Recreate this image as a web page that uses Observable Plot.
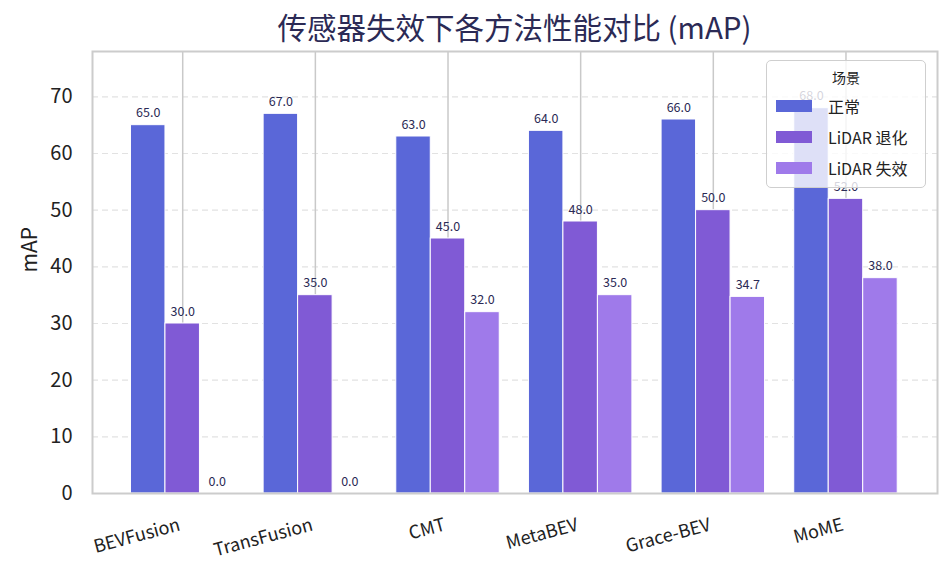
<!DOCTYPE html>
<html>
<head>
<meta charset="utf-8">
<script src="https://cdn.jsdelivr.net/npm/d3@7"></script>
<script src="https://cdn.jsdelivr.net/npm/@observablehq/plot@0.6"></script>
<style>
  html, body { margin: 0; padding: 0; background: #fff; }
  body { width: 951px; height: 576px; position: relative; overflow: hidden; font-family: "Noto Sans CJK SC", "Noto Sans", sans-serif; }
  #title { height: 46px; line-height: 52px; padding-left: 78px; text-align: center; font-size: 29.5px; color: #2b2a55; white-space: nowrap; }
  #legend { position: absolute; left: 766px; top: 60px; width: 158px; height: 126px; border: 1px solid #cfcfcf; border-radius: 5px; background: rgba(255,255,255,0.8); box-sizing: content-box; }
  #legend .lt { position: absolute; left: 0; width: 100%; top: 6px; text-align: center; font-size: 14px; color: #222; }
  #legend .it { position: absolute; left: 9px; height: 20px; font-size: 16px; color: #222; display: flex; align-items: center; }
  #legend .sw { width: 36px; height: 12px; margin-right: 16px; }
  svg { display: block; }
</style>
</head>
<body>
<div id="title">传感器失效下各方法性能对比 (mAP)</div>
<div id="chart"></div>
<div id="legend"></div>
<script>
const methods = ["BEVFusion", "TransFusion", "CMT", "MetaBEV", "Grace-BEV", "MoME"];
const scenarios = ["正常", "LiDAR 退化", "LiDAR 失效"];
const normal = [65, 67, 63, 64, 66, 68];
const degraded = [30, 35, 45, 48, 50, 52];
const failed = [0, 0, 32, 35, 34.7, 38];
const colors = ["#5a67d8", "#805ad5", "#9f7aea"];
const yTicks = [0, 10, 20, 30, 40, 50, 60, 70];

const series = [normal, degraded, failed];
const rows = [];
methods.forEach((m, i) => {
  scenarios.forEach((s, k) => {
    rows.push({method: m, i, scenario: s, k, value: series[k][i]});
  });
});
const methodRows = methods.map((m, i) => ({method: m, i}));
const w = 0.26;
const cx = d => d.i + (d.k - 1) * w;

const chart = Plot.plot({
  width: 951,
  height: 530,
  marginTop: 5,
  marginBottom: 83,
  marginLeft: 92,
  marginRight: 14,
  style: {fontFamily: "'Noto Sans CJK SC', 'Noto Sans', sans-serif", background: "transparent"},
  x: {type: "linear", domain: [-0.68, 5.69], axis: null},
  y: {domain: [0, 78]},
  color: {domain: scenarios, range: colors},
  marks: [
    Plot.gridY({ticks: yTicks, stroke: "#e2e2e2", strokeOpacity: 1, strokeWidth: 1.2, strokeDasharray: "6,4"}),
    Plot.gridX({ticks: d3.range(methods.length), stroke: "#c9c9c9", strokeOpacity: 1, strokeWidth: 1.5}),
    Plot.rectY(rows, {
      x1: d => cx(d) - w / 2,
      x2: d => cx(d) + w / 2,
      y1: 0,
      y2: "value",
      fill: "scenario",
      stroke: "white",
      strokeWidth: 1
    }),
    Plot.text(rows, {
      x: cx,
      y: "value",
      text: d => d.value.toFixed(1),
      dy: -12,
      fontSize: 12.5,
      fill: "#2b2a55"
    }),
    Plot.axisY({
      ticks: yTicks,
      tickSize: 0,
      tickPadding: 20,
      fontSize: 20,
      color: "#222",
      label: null
    }),
    Plot.text(["mAP"], {
      frameAnchor: "left",
      rotate: -90,
      dx: -62,
      fontSize: 21,
      fill: "#222"
    }),
    Plot.text(methodRows, {
      x: "i",
      y: () => 0,
      text: "method",
      rotate: -15,
      textAnchor: "end",
      lineAnchor: "middle",
      dx: -3,
      dy: 31,
      fontSize: 18,
      fill: "#222"
    }),
    Plot.frame({stroke: "#cccccc", strokeWidth: 2})
  ]
});
document.getElementById("chart").appendChild(chart);

const legend = document.getElementById("legend");
const lt = document.createElement("div");
lt.className = "lt";
lt.textContent = "场景";
legend.appendChild(lt);
scenarios.forEach((s, k) => {
  const it = document.createElement("div");
  it.className = "it";
  it.style.top = (35 + k * 31) + "px";
  const sw = document.createElement("span");
  sw.className = "sw";
  sw.style.background = colors[k];
  it.appendChild(sw);
  const tx = document.createElement("span");
  tx.textContent = s;
  it.appendChild(tx);
  legend.appendChild(it);
});
</script>
</body>
</html>
